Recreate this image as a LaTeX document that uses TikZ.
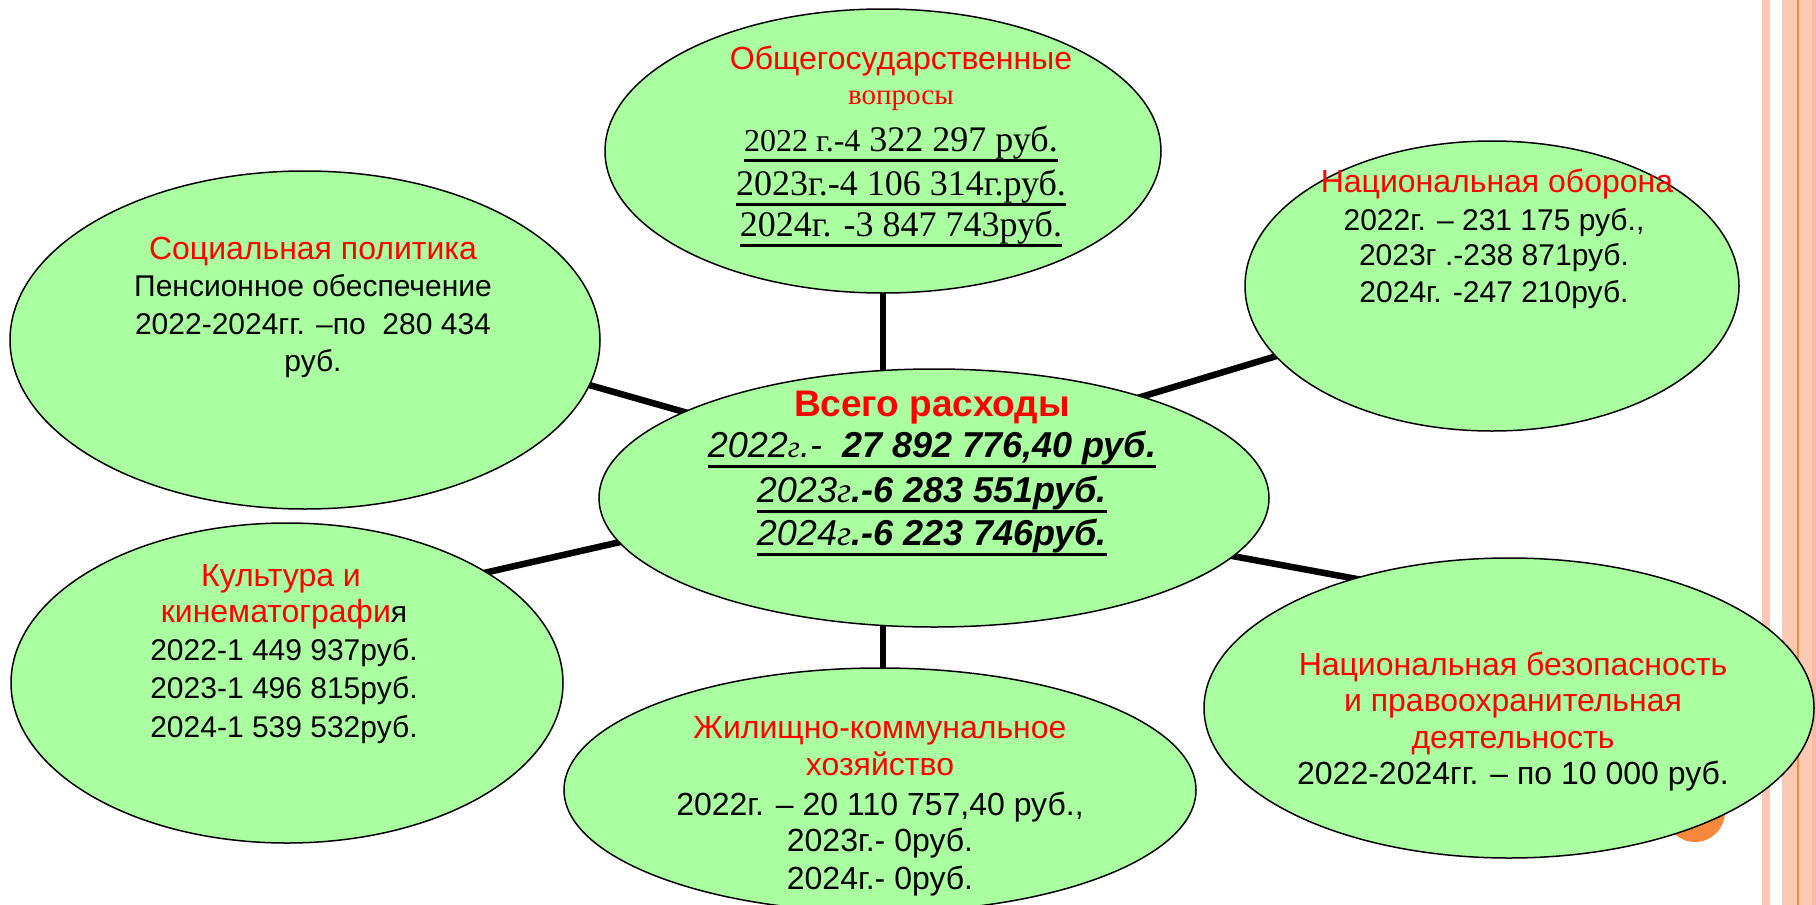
\documentclass[tikz,border=0pt]{standalone}
\usepackage{fontspec}
\setmainfont{Liberation Sans}
\newfontfamily\tnr{Liberation Serif}
\usetikzlibrary{shapes.geometric,backgrounds}
\definecolor{egreen}{RGB}{170,255,160}
\definecolor{salmon}{RGB}{251,201,180}
\definecolor{salmondk}{RGB}{249,186,160}
\definecolor{orangeline}{RGB}{247,137,60}
\definecolor{tred}{RGB}{255,0,0}
\newcommand\myul[1]{\setbox0=\hbox{#1}\rlap{\rule[-10.5pt]{\wd0}{2.6pt}}\box0}
\tikzset{
  bub/.style={ellipse, draw=black, line width=1.5pt, fill=egreen, inner sep=0pt, outer sep=0pt},
  txt/.style={inner sep=0pt, anchor=base, font=\fontsize{30}{37}\selectfont},
  btxt/.style={inner sep=0pt, anchor=base, font=\fontsize{32}{38}\selectfont},
  rtxt/.style={btxt, text=tred},
  ctxt/.style={inner sep=0pt, anchor=base, font=\fontsize{36}{43}\selectfont},
  stxt/.style={inner sep=0pt, anchor=base, font=\tnr\fontsize{36}{43}\selectfont},
  link/.style={line width=6.5pt, black, shorten <=-12pt, shorten >=-12pt},
}
\begin{document}
\begin{tikzpicture}[x=1pt,y=-1pt]
\useasboundingbox (0,0) rectangle (1816,905);
\begin{scope}[on background layer]
  \fill[white] (0,0) rectangle (1816,905);
\end{scope}
% right decorative stripes
\fill[salmon] (1762,0) rectangle (1770,905);
\fill[salmon] (1782,0) rectangle (1816,905);
\fill[salmondk] (1812,0) rectangle (1816,905);
\fill[orangeline] (1796.5,0) rectangle (1799,905);
\fill[orangeline] (1695,812) circle (30);

% ellipses
\node[bub, minimum width=556pt, minimum height=284pt] (top) at (883,151) {};
\node[bub, minimum width=590pt, minimum height=338pt] (soc) at (305,340) {};
\node[bub, minimum width=494pt, minimum height=290pt] (nat) at (1492,286) {};
\node[bub, minimum width=670pt, minimum height=258pt] (c) at (934,498) {};
\node[bub, minimum width=552pt, minimum height=320pt] (kul) at (287,683) {};
\node[bub, minimum width=632pt, minimum height=244pt] (zh) at (880,790) {};
\node[bub, minimum width=610pt, minimum height=300pt] (nb) at (1509,708) {};

% connectors
\begin{scope}[on background layer]
  \draw[link] (top.center) -- (top.center |- zh.center);
  \draw[link] (soc.-9) -- (c.161);
  \draw[link] (c.26) -- (nat.-162);
  \draw[link] (kul.29) -- (c.-172);
  \draw[link] (c.-11) -- (nb.140);
\end{scope}

% top ellipse text
\node[rtxt] (t1) at (901,69) {Общегосударственные};
\node[inner sep=0pt, anchor=base, text=tred, font=\tnr\fontsize{29}{34}\selectfont] (t2) at (901,104) {вопросы};
\node[stxt] (t3) at (901,151) {\myul{{\fontsize{32}{36}\selectfont 2022 г.-4} 322 297 руб.}};
\node[stxt] (t4) at (901,195) {\myul{2023г.-4 106 314г.руб.}};
\node[stxt] (t5) at (901,236) {\myul{2024г. -3 847 743руб.}};

% social
\node[rtxt] (s1) at (313,259) {Социальная политика};
\node[txt] (s2) at (313,296) {Пенсионное обеспечение};
\node[txt] (s3) at (313,334) {2022-2024гг. –по\ \ 280 434};
\node[txt] (s4) at (313,371) {руб.};

% national defence
\node[rtxt] (n1) at (1497,192) {Национальная оборона};
\node[txt] (n2) at (1494,230) {2022г. – 231 175 руб.,};
\node[txt] (n3) at (1494,265) {2023г .-238 871руб.};
\node[txt] (n4) at (1494,302) {2024г. -247 210руб.};

% centre
\node[ctxt, text=tred, font=\fontsize{37}{43}\selectfont\bfseries] (c1) at (932,416) {Всего расходы};
\node[ctxt] (c2) at (932,457) {\myul{\itshape 2022{\tnr\itshape\fontsize{31}{36}\selectfont г}.-\ \ {\bfseries 27 892 776,40 руб.}}};
\node[ctxt] (c3) at (932,502) {\myul{\itshape 2023{\tnr\itshape г}{\bfseries .-6 283 551руб.}}};
\node[ctxt] (c4) at (932,545) {\myul{\itshape 2024{\tnr\itshape г}{\bfseries .-6 223 746руб.}}};

% culture
\node[rtxt] (k1) at (281,586) {Культура и};
\node[txt] (k2) at (284,622) {\textcolor{tred}{\fontsize{32}{38}\selectfont кинематографи}я};
\node[txt] (k3) at (284,660) {2022-1 449 937руб.};
\node[txt] (k4) at (284,698) {2023-1 496 815руб.};
\node[txt] (k5) at (284,737) {2024-1 539 532руб.};

% housing
\node[rtxt] (z1) at (880,738) {Жилищно-коммунальное};
\node[rtxt] (z2) at (880,775) {хозяйство};
\node[btxt] (z3) at (880,815) {2022г. – 20 110 757,40 руб.,};
\node[btxt] (z4) at (880,851) {2023г.- 0руб.};
\node[btxt] (z5) at (880,889) {2024г.- 0руб.};

% security
\node[rtxt] (b1) at (1513,675) {Национальная безопасность};
\node[rtxt] (b2) at (1513,711) {и правоохранительная};
\node[rtxt] (b3) at (1513,748) {деятельность};
\node[btxt] (b4) at (1513,784) {2022-2024гг. – по 10 000 руб.};
\end{tikzpicture}
\end{document}
